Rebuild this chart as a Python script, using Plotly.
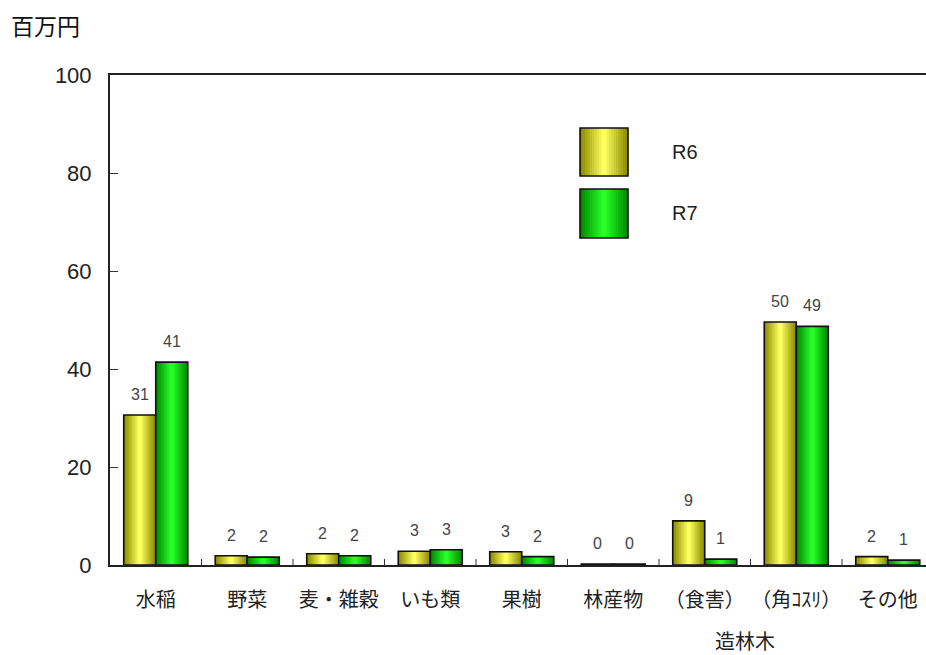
import plotly.graph_objects as go

categories = ["水稲", "野菜", "麦・雑穀", "いも類", "果樹", "林産物", "（食害）", "（角ｺｽﾘ）", "その他"]
r6_values = [30.6, 1.9, 2.3, 2.8, 2.7, 0.2, 9.0, 49.6, 1.7]
r7_values = [41.4, 1.6, 1.9, 3.1, 1.7, 0.2, 1.2, 48.7, 1.0]
series_names = ["R6", "R7"]
y_ticks = [0, 20, 40, 60, 80, 100]

W, H = 926, 655
L, R, T, B = 110, 0, 75, 90
PW, PH = W - L - R, H - T - B

def px(x):
    return (x - L) / PW

def py(y):
    return (H - B - y) / PH

def lerp(c1, c2, t):
    return "rgb(%d,%d,%d)" % tuple(round(a + (b - a) * t) for a, b in zip(c1, c2))

yellow_edge, yellow_mid = (140, 140, 0), (255, 255, 95)
green_edge, green_mid = (0, 140, 0), (40, 255, 40)

FONT = "Liberation Sans, Arial, Noto Sans CJK JP"
JFONT = "Noto Sans CJK JP"

x_idx = list(range(len(categories)))
bw = 0.35
n_layers = 10

fig = go.Figure()
series = [(r6_values, -bw / 2, yellow_edge, yellow_mid, series_names[0]),
          (r7_values, bw / 2, green_edge, green_mid, series_names[1])]

for vals, center, ce, cm, name in series:
    for k in range(n_layers):
        f = 1 - k / n_layers
        t = k / (n_layers - 1)
        w = bw * f
        fig.add_trace(go.Bar(
            x=x_idx, y=vals, width=[w] * len(vals), offset=center - w / 2,
            marker=dict(color=lerp(ce, cm, t), line=dict(width=0)),
            name=name, showlegend=False, hoverinfo="skip" if k else None,
        ))
    fig.add_trace(go.Bar(
        x=x_idx, y=vals, width=[bw] * len(vals), offset=center - bw / 2,
        marker=dict(color="rgba(0,0,0,0)", line=dict(color="#111", width=1.6)),
        name=name, showlegend=False, hoverinfo="skip",
    ))

annotations = []
for vals, center, *_ in series:
    for i, v in enumerate(vals):
        annotations.append(dict(
            x=i + center, y=v, xref="x", yref="y", text=f"{round(v)}",
            showarrow=False, yanchor="bottom", yshift=10,
            font=dict(family=FONT, size=16, color="#444"),
        ))

annotations.append(dict(x=px(9), y=py(25), xref="paper", yref="paper", text="百万円",
                        showarrow=False, xanchor="left", yanchor="middle",
                        font=dict(family=JFONT, size=23, color="#111")))
annotations.append(dict(x=px(745), y=py(640), xref="paper", yref="paper", text="造林木",
                        showarrow=False, xanchor="center", yanchor="middle",
                        font=dict(family=JFONT, size=20, color="#222")))

# legend (custom large swatches)
shapes = []
legend_boxes = [(580, 128, 628, 176, yellow_edge, yellow_mid, series_names[0]),
                (580, 189, 628, 238, green_edge, green_mid, series_names[1])]
for x0, y0, x1, y1, ce, cm, name in legend_boxes:
    cx = (x0 + x1) / 2
    hw = (x1 - x0) / 2
    for k in range(n_layers):
        f = 1 - k / n_layers
        t = k / (n_layers - 1)
        shapes.append(dict(type="rect", xref="paper", yref="paper",
                           x0=px(cx - hw * f), x1=px(cx + hw * f), y0=py(y1), y1=py(y0),
                           fillcolor=lerp(ce, cm, t), line=dict(width=0), layer="above"))
    shapes.append(dict(type="rect", xref="paper", yref="paper",
                       x0=px(x0), x1=px(x1), y0=py(y1), y1=py(y0),
                       fillcolor="rgba(0,0,0,0)", line=dict(color="#111", width=1.6), layer="above"))
    annotations.append(dict(x=px(670), y=py((y0 + y1) / 2), xref="paper", yref="paper",
                            text=name, showarrow=False, xanchor="left", yanchor="middle",
                            font=dict(family=FONT, size=20, color="#222")))

fig.update_layout(
    width=W, height=H,
    margin=dict(l=L, r=R, t=T, b=B),
    paper_bgcolor="white", plot_bgcolor="white",
    barmode="overlay",
    showlegend=False,
    annotations=annotations,
    shapes=shapes,
    xaxis=dict(
        type="linear", range=[-0.5, PW / 91.5 - 0.5],
        tickmode="array", tickvals=x_idx, ticktext=categories,
        ticks="", showgrid=False, zeroline=False,
        showline=True, linecolor="#222", linewidth=2, mirror=True,
        tickfont=dict(family=JFONT, size=20, color="#222"),
        ticklabelstandoff=16,
    ),
    yaxis=dict(
        range=[0, 100], tickvals=y_ticks, ticks="inside", ticklen=8, tickwidth=1,
        tickcolor="#333", showgrid=False, zeroline=False,
        showline=True, linecolor="#222", linewidth=2, mirror=False,
        tickfont=dict(family=FONT, size=22, color="#222"),
        ticklabelstandoff=12,
    ),
)

# category boundary ticks on the x axis (inside, pointing up)
for b in range(1, len(categories)):
    fig.add_shape(type="line", xref="x", yref="paper", x0=b - 0.5, x1=b - 0.5,
                  y0=0, y1=6 / PH, line=dict(color="#333", width=1))

fig.write_html("out.html", config={"displayModeBar": False},
               post_script="document.body.style.margin='0';document.body.style.overflow='hidden';")
